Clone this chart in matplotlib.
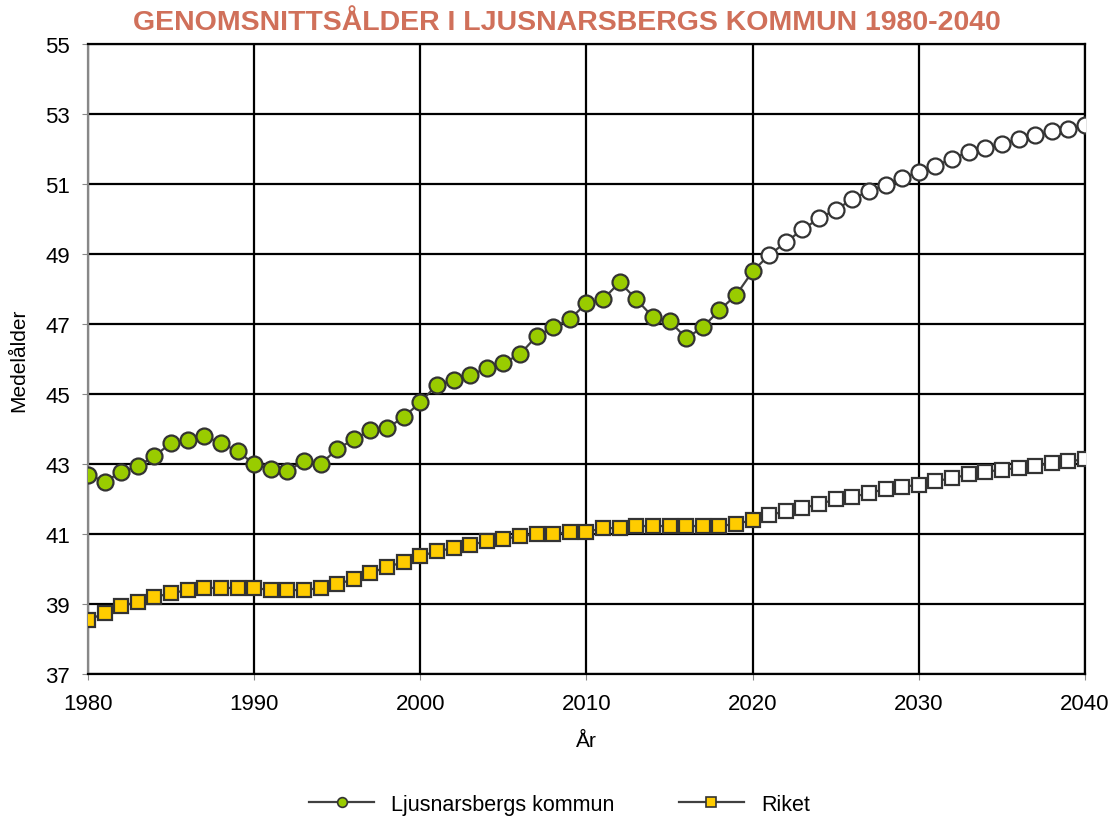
import numpy as np
import matplotlib.pyplot as plt
from matplotlib import font_manager

names = set(f.name for f in font_manager.fontManager.ttflist)
base = [n for n in ['Liberation Sans Narrow', 'Liberation Sans'] if n in names] + ['DejaVu Sans']
plt.rcParams['font.family'] = base

years = list(range(1980, 2041))
ljusnarsberg = [42.7, 42.5, 42.77, 42.94, 43.23, 43.6, 43.69, 43.8, 43.6, 43.37,
                43.0, 42.86, 42.8, 43.09, 43.0, 43.43, 43.71, 43.97, 44.03, 44.34,
                44.77, 45.26, 45.4, 45.54, 45.74, 45.89, 46.14, 46.66, 46.91, 47.14,
                47.6, 47.71, 48.2, 47.71, 47.2, 47.09, 46.6, 46.91, 47.4, 47.83,
                48.51, 48.98, 49.34, 49.71, 50.02, 50.27, 50.57, 50.81, 50.98, 51.18,
                51.35, 51.52, 51.73, 51.92, 52.04, 52.16, 52.29, 52.41, 52.52, 52.59,
                52.7]
riket = [38.54, 38.74, 38.94, 39.06, 39.2, 39.31, 39.4, 39.46, 39.46, 39.46,
         39.46, 39.4, 39.4, 39.4, 39.46, 39.57, 39.71, 39.89, 40.06, 40.2,
         40.37, 40.51, 40.6, 40.69, 40.8, 40.86, 40.94, 41.0, 41.0, 41.06,
         41.06, 41.17, 41.17, 41.23, 41.23, 41.23, 41.23, 41.23, 41.23, 41.29,
         41.4, 41.54, 41.66, 41.74, 41.86, 41.99, 42.06, 42.17, 42.29, 42.35,
         42.41, 42.52, 42.59, 42.71, 42.78, 42.84, 42.89, 42.95, 43.02, 43.08,
         43.14]
last_actual = 2020

yrs = np.array(years)
lj = np.array(ljusnarsberg)
rk = np.array(riket)
act = yrs <= last_actual
prog = yrs > last_actual

fig = plt.figure(figsize=(11.19, 8.2), dpi=100)
ax = fig.add_axes([0.0786, 0.1768, 0.891, 0.768])

line_c = '#404040'
edge_c = '#333333'

# lines
ax.plot(yrs, lj, color=line_c, lw=1.6, zorder=3)
ax.plot(yrs, rk, color=line_c, lw=1.6, zorder=3)
# markers: actual filled, forecast white
ax.plot(yrs[act], lj[act], ls='none', marker='o', ms=11.5, mfc='#99CC00', mec=edge_c, mew=1.6, zorder=4)
ax.plot(yrs[prog], lj[prog], ls='none', marker='o', ms=11.5, mfc='white', mec=edge_c, mew=1.6, zorder=4)
ax.plot(yrs[act], rk[act], ls='none', marker='s', ms=10.5, mfc='#FFCC00', mec=edge_c, mew=1.6, zorder=4)
ax.plot(yrs[prog], rk[prog], ls='none', marker='s', ms=10.5, mfc='white', mec=edge_c, mew=1.6, zorder=4)

# legend handles
h1, = ax.plot([], [], color=line_c, lw=1.6, marker='o', ms=7, mfc='#99CC00', mec=edge_c, mew=1.2)
h2, = ax.plot([], [], color=line_c, lw=1.6, marker='s', ms=7, mfc='#FFCC00', mec=edge_c, mew=1.2)
fig.legend([h1, h2], ['Ljusnarsbergs kommun', 'Riket'], loc='center', bbox_to_anchor=(0.5, 0.018),
           ncol=2, frameon=False, fontsize=15.5, handlelength=3, columnspacing=3)

ax.set_xlim(1980, 2040)
ax.set_ylim(37, 55)
ax.set_xticks(range(1980, 2041, 10))
ax.set_yticks(range(37, 56, 2))
ax.grid(True, color='black', lw=1.6)
ax.set_axisbelow(True)
ax.tick_params(labelsize=16, length=4, color='#888888')
ax.tick_params(axis='x', pad=10)
ax.tick_params(axis='y', pad=9)
for s in ['top', 'right', 'bottom']:
    ax.spines[s].set_color('black')
    ax.spines[s].set_linewidth(1.6)
ax.spines['left'].set_color('#888888')
ax.spines['left'].set_linewidth(1.6)

ax.set_xlabel('År', fontsize=15, labelpad=12)
ax.set_ylabel('Medelålder', fontsize=15, labelpad=12)
fig.suptitle('GENOMSNITTSÅLDER I LJUSNARSBERGS KOMMUN 1980-2040', x=0.507, y=0.988,
             fontsize=20.5, fontweight='bold', color='#D0705A')

fig.savefig('out.png', dpi=100)
